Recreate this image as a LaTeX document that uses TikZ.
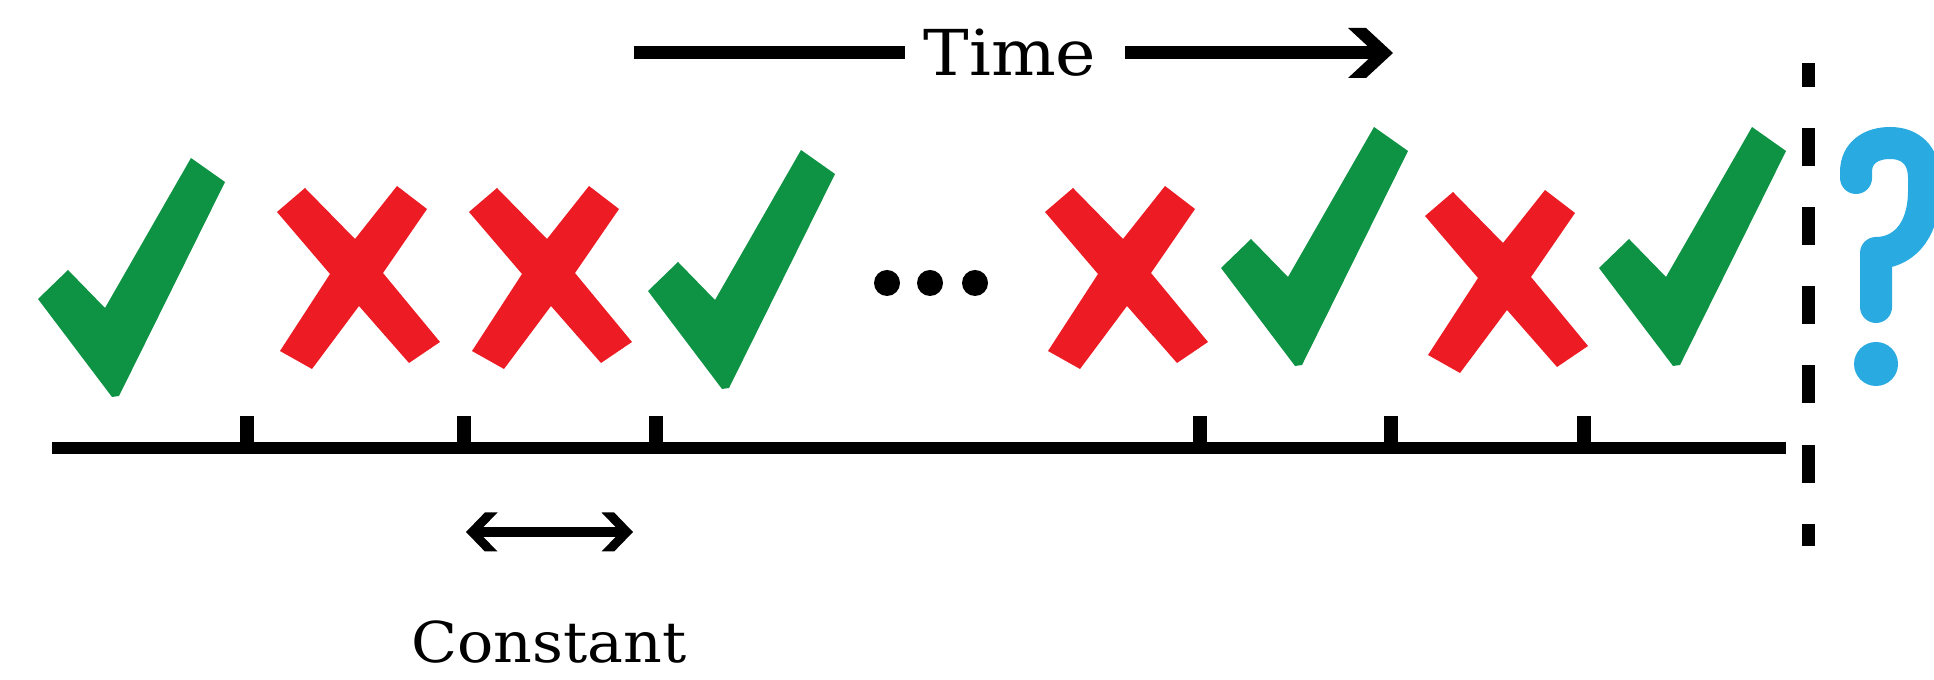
\documentclass[tikz,border=0pt]{standalone}
\usepackage{fontspec}
\setmainfont{DejaVu Serif}
\usetikzlibrary{arrows.meta}
\definecolor{okgreen}{RGB}{14,147,68}
\definecolor{badred}{RGB}{237,28,36}
\definecolor{qblue}{RGB}{41,171,226}
\tikzset{
  okmark/.pic={\fill[okgreen] (-67,-9) -- (-37,-38) -- (0,0) -- (86,-150)
      -- (120,-126) -- (14,88) -- (7,89) -- cycle;},
  xmark/.pic={\fill[badred] (-80,-63) -- (-52,-87) -- (-2,-36) -- (40,-89)
      -- (70,-66) -- (26,-2) -- (83,67) -- (52,88) -- (2,31) -- (-45,94)
      -- (-77,76) -- (-27,-1) -- cycle;},
  % chevron arrow head, tip at the origin, pointing along +x
  chevhead/.pic={\fill (-45,-25) -- (-27,-25) -- (0,0) -- (-27,25)
      -- (-45,25) -- (-18,0) -- cycle;},
  axisline/.style={line width=3.5pt},
  tickmark/.style={line width=3.8pt},
  timeline/.style={line width=3.7pt},
  sepline/.style={line width=3.7pt, dash pattern=on 10.8pt off 11.7pt, dash phase=4pt},
  label/.style={inner sep=0pt, anchor=base},
}
\begin{document}
\begin{tikzpicture}[x=0.01cm, y=-0.01cm]
  \clip (0,0) rectangle (1934,680);

  % time arrow with its label
  \node[label, font=\fontsize{18}{18}\selectfont] (time) at (1010,76) {\scalebox{1.08}[1]{Time}};
  \coordinate (tstart) at (634,53);
  \coordinate (tleft) at (905,53);
  \coordinate (tright) at (1125,53);
  \coordinate (tend) at (1393,53);
  \draw[timeline] (tstart) -- (tleft);
  \draw[timeline] (tright) -- ([xshift=-0.1cm]tend);
  \pic at (tend) {chevhead};

  % outcomes
  \pic at (105,308) {okmark};
  \pic at (357,275) {xmark};
  \pic at (549,275) {xmark};
  \pic at (715,300) {okmark};
  \fill (887,283) circle (13) (930,283) circle (13) (975,283) circle (13);
  \pic at (1125,275) {xmark};
  \pic at (1288,277) {okmark};
  \pic at (1505,279) {xmark};
  \pic at (1666,277) {okmark};

  % axis with ticks
  \coordinate (a0) at (52,448);
  \coordinate (a1) at (1786,448);
  \draw[axisline] (a0) -- (a1);
  \foreach \t [count=\i] in {247,464,656,1200,1391,1584} {
    \coordinate (k\i) at (\t,448);
    \draw[tickmark] (k\i) -- ++(0,-32);
  }

  % constant spacing marker
  \coordinate (c0) at (466,532);
  \coordinate (c1) at (633,532);
  \draw[line width=2.7pt] ([xshift=0.08cm]c0) -- ([xshift=-0.08cm]c1);
  \pic[xscale=0.7, yscale=0.78] at (c1) {chevhead};
  \pic[xscale=-0.7, yscale=0.78] at (c0) {chevhead};
  \node[label, font=\fontsize{16}{16}\selectfont] (const) at (549,663) {\scalebox{1.07}[1]{Constant}};

  % present boundary and the unknown next outcome
  \coordinate (s0) at (1808,63);
  \coordinate (s1) at (1808,546);
  \draw[sepline] (s0) -- (s1);
  \draw[qblue, line width=9.1pt, line cap=round, line join=round]
    (1856,178) -- (1856,172) .. controls (1856,152) and (1872,143) .. (1890,143)
    .. controls (1910,143) and (1924,155) .. (1924,178)
    -- (1924,190) .. controls (1924,235) and (1900,253) .. (1876,253) -- (1876,307);
  \fill[qblue] (1876,364) circle (22);
\end{tikzpicture}
\end{document}
